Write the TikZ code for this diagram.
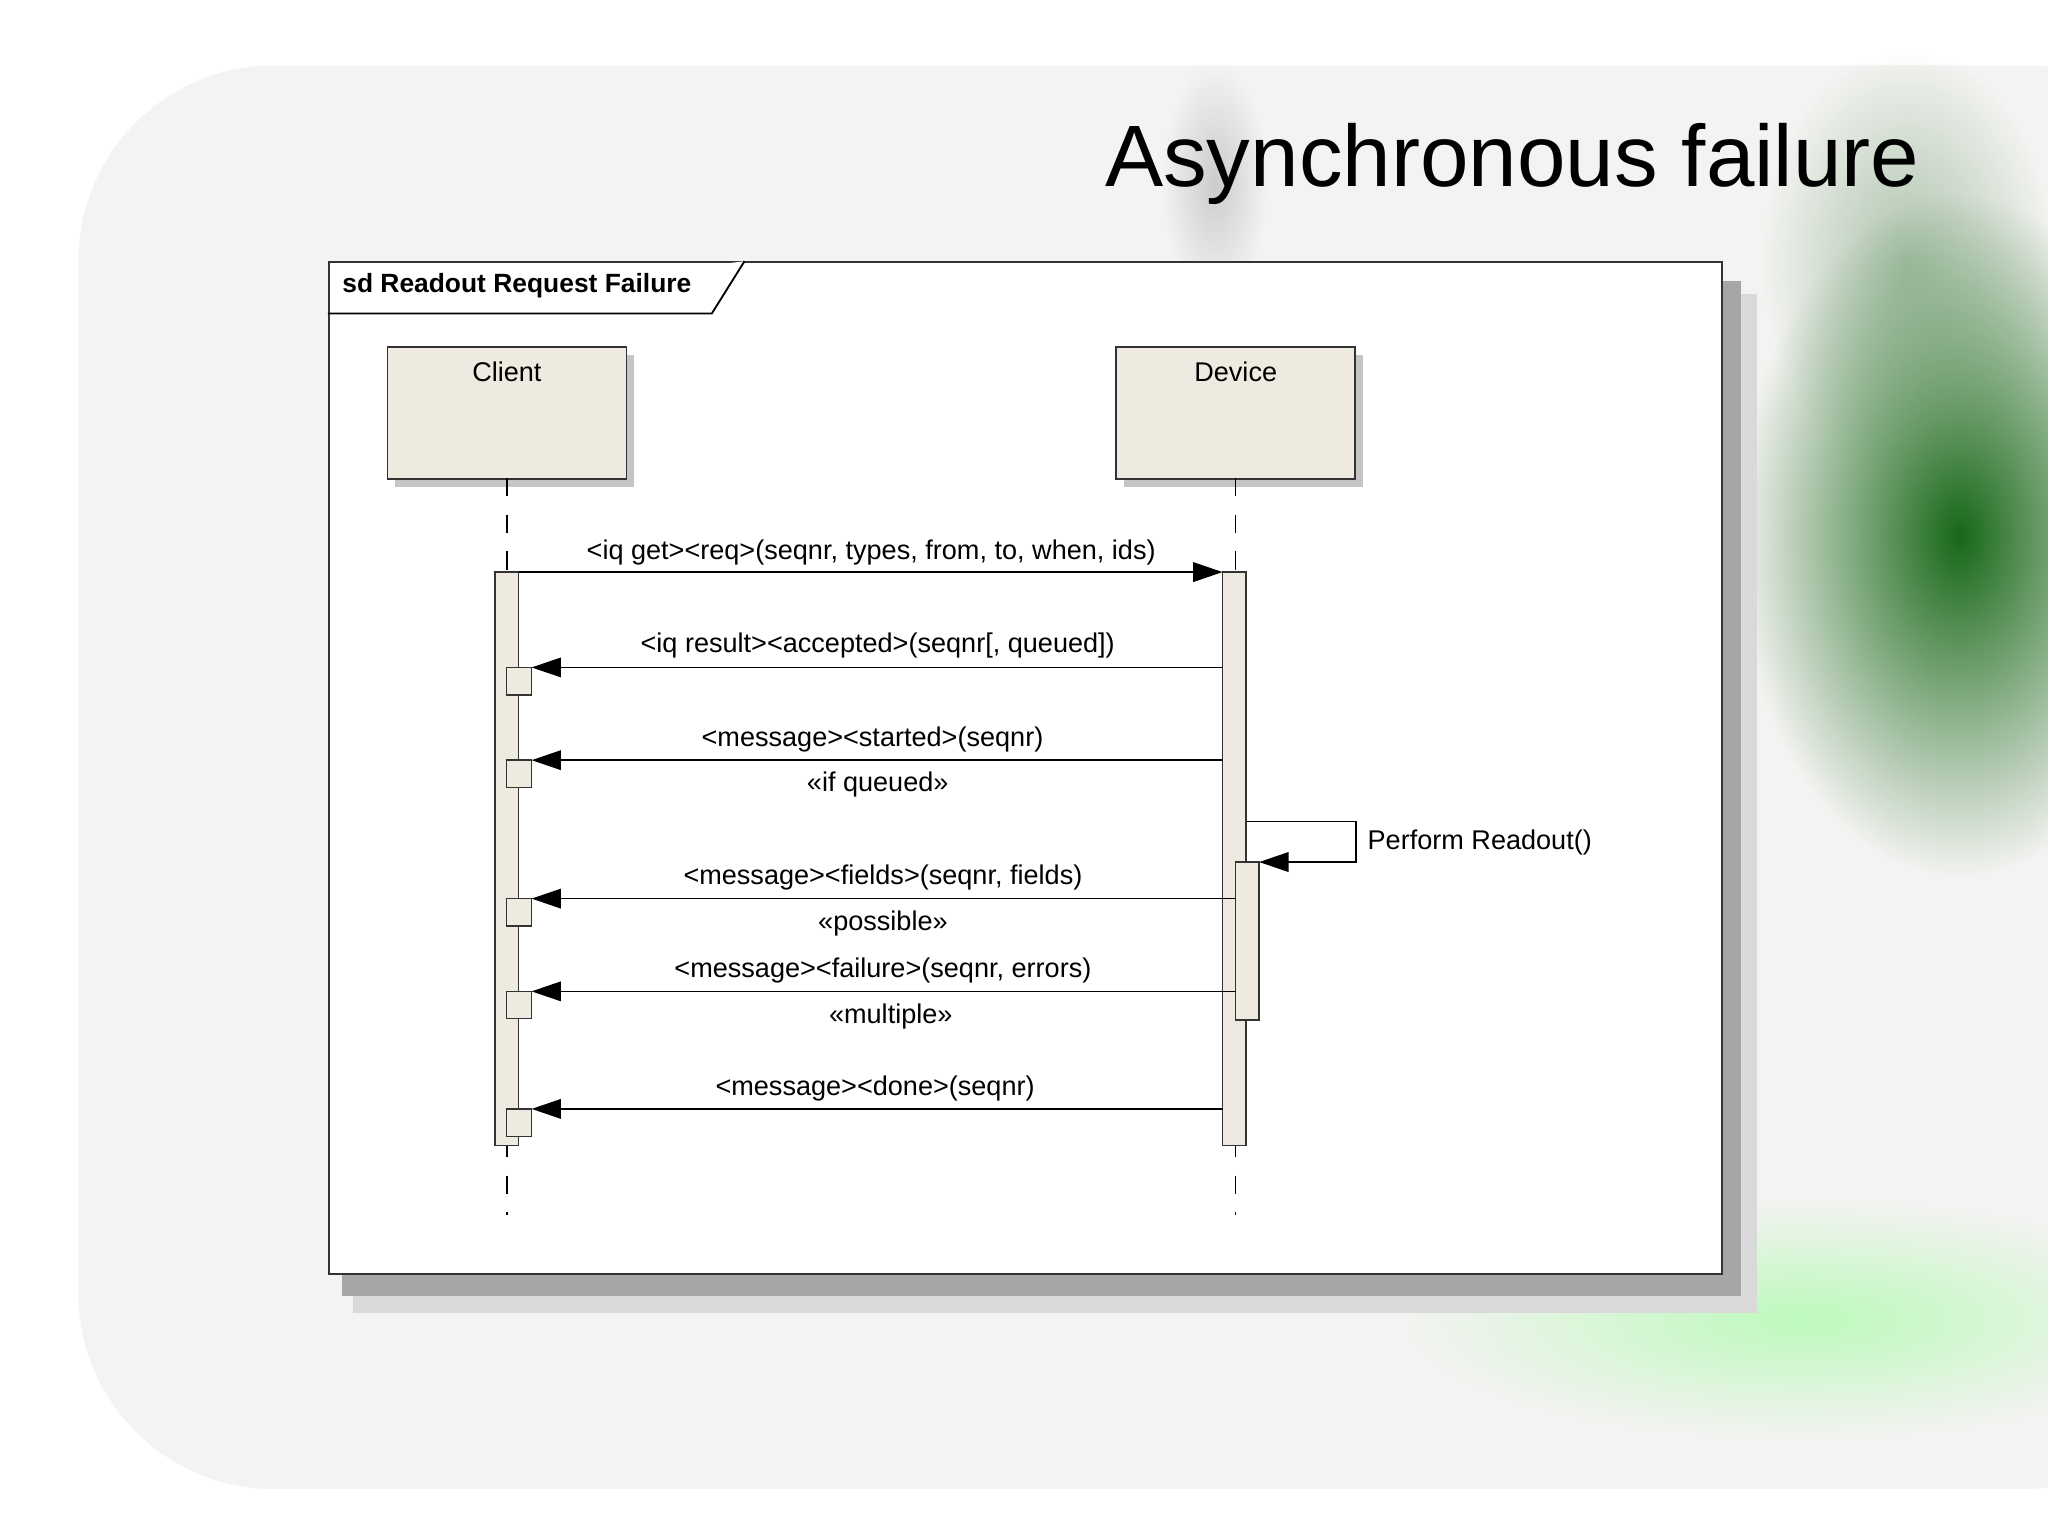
\documentclass[tikz,border=0pt]{standalone}
\usepackage{fontspec}
\setmainfont{Liberation Sans}
\usetikzlibrary{arrows.meta,shadows,fadings}
\definecolor{beige}{HTML}{EFEAE0}
\definecolor{bggray}{HTML}{F3F3F1}
\tikzfading[name=soft, inner color=transparent!0, outer color=transparent!100]
\tikzset{
  lbl/.style={font=\fontsize{11.8}{13}\selectfont, inner sep=1pt},
  act/.style={draw=black!80, fill=beige, line width=0.6pt},
  msg/.style={line width=0.7pt, -{Triangle[length=0.45cm,width=0.3cm]}},
  life/.style={dashed, dash pattern=on 8pt off 8pt, line width=0.7pt},
  part/.style={draw=black!80, fill=beige, line width=0.7pt, minimum width=3.66cm, minimum height=2.02cm, inner sep=0pt,
     drop shadow={shadow xshift=0.12cm, shadow yshift=-0.12cm, fill=black!45}},
  blob/.style={path fading=soft},
}
\begin{document}
\begin{tikzpicture}[x=0.02cm,y=-0.02cm]
\useasboundingbox (0,0) rectangle (1568,1176);
\fill[white] (0,0) rectangle (1568,1176);
\fill[bggray, rounded corners=3cm] (60,50) rectangle (1700,1140);
% green decoration
\fill[blob, green!35!black, opacity=0.9] (1500,410) ellipse (170 and 260);
\fill[blob, green!30!black!60, opacity=0.5] (1460,200) ellipse (110 and 160);
\fill[blob, green!40!white, opacity=0.6] (1380,1010) ellipse (300 and 90);
\fill[blob, black!30, opacity=0.6] (930,140) ellipse (40 and 90);
% frame with shadow
\fill[black!15] (270,225) rectangle (1345,1005);
\fill[black!35] (262,215) rectangle (1333,992);
\node[draw=black!80, fill=white, line width=0.8pt, minimum width=21.34cm, minimum height=15.5cm, inner sep=0pt, anchor=north west] (frame) at (251,200) {};
\draw[line width=0.8pt, fill=white] (251,240) -- (545,240) -- (570,200);
\node[lbl, font=\bfseries\fontsize{11.5}{12}\selectfont, anchor=west] (tab) at (260,219) {sd Readout Request Failure};
% title
\node[font=\fontsize{38}{42}\selectfont, anchor=base east, inner sep=0pt] (title) at (1470,143) {Asynchronous failure};
% participants
\node[part, anchor=north west] (client) at (296,265) {};
\node[lbl, anchor=north] (clientl) at (client.north) [yshift=-0.2cm] {Client};
\node[part, anchor=north west] (device) at (854,265) {};
\node[lbl, anchor=north] (devicel) at (device.north) [yshift=-0.2cm] {Device};
% lifelines
\coordinate (cend) at (388,930);
\coordinate (dend) at (946,930);
\draw[life] (388,366) -- (cend);
\draw[life] (946,366) -- (dend);
% activations
\draw[act] (379,438) rectangle (397,877);
\draw[act] (936,438) rectangle (954,877);
\draw[act] (946,660) rectangle (964,781);
\foreach \y in {511,582,688,759,849} \draw[act] (388,\y) rectangle (407,\y+21);
% messages
\coordinate (m1a) at (397,438); \coordinate (m1b) at (936,438);
\draw[msg] (m1a) -- (m1b);
\node[lbl] (t1) at (667,423) {<iq get><req>(seqnr, types, from, to, when, ids)};
\coordinate (m2a) at (936,511); \coordinate (m2b) at (407,511);
\draw[msg] (m2a) -- (m2b);
\node[lbl] (t2) at (672,494) {<iq result><accepted>(seqnr[, queued])};
\coordinate (m3a) at (936,582); \coordinate (m3b) at (407,582);
\draw[msg] (m3a) -- (m3b);
\node[lbl] (t3) at (668,566) {<message><started>(seqnr)};
\node[lbl] (s3) at (672,601) {«if queued»};
\coordinate (sa) at (954,629); \coordinate (sb) at (964,660);
\draw[msg] (sa) -- (1038,629) -- (1038,660) -- (sb);
\node[lbl, anchor=west] (ts) at (1045,645) {Perform Readout()};
\coordinate (m4a) at (946,688); \coordinate (m4b) at (407,688);
\draw[msg] (m4a) -- (m4b);
\node[lbl] (t4) at (676,672) {<message><fields>(seqnr, fields)};
\node[lbl] (s4) at (676,707) {«possible»};
\coordinate (m5a) at (946,759); \coordinate (m5b) at (407,759);
\draw[msg] (m5a) -- (m5b);
\node[lbl] (t5) at (676,743) {<message><failure>(seqnr, errors)};
\node[lbl] (s5) at (682,778) {«multiple»};
\coordinate (m6a) at (936,849); \coordinate (m6b) at (407,849);
\draw[msg] (m6a) -- (m6b);
\node[lbl] (t6) at (670,833) {<message><done>(seqnr)};
\end{tikzpicture}
\end{document}
